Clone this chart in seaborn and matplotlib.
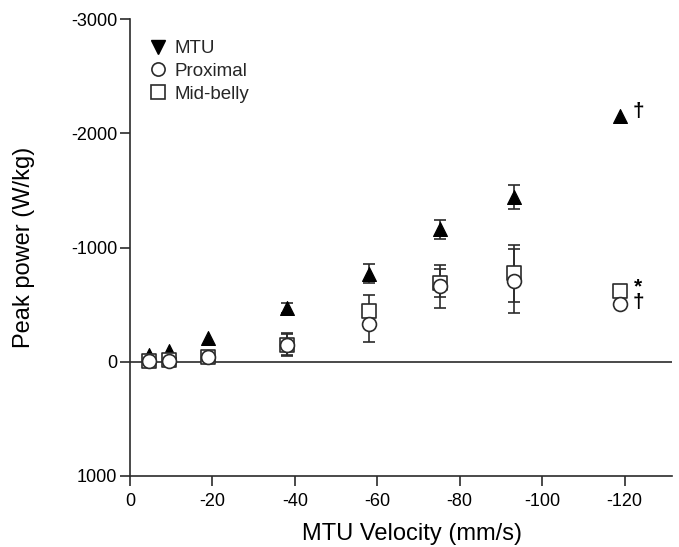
import numpy as np
import pandas as pd
import matplotlib
matplotlib.use("Agg")
import matplotlib.pyplot as plt
from matplotlib.lines import Line2D
import seaborn as sns

# ---- data ----
velocity = [-4.7, -9.4, -18.9, -38.0, -58.0, -75.2, -93.2, -118.9]
mtu = [-55, -95, -210, -470, -770, -1160, -1445, -2150]
mtu_err = [0, 0, 0, 40, 85, 85, 105, 0]
proximal = [-5, -8, -40, -150, -330, -660, -705, -505]
proximal_err = [0, 0, 0, 100, 160, 190, 280, 0]
midbelly = [-8, -12, -45, -150, -440, -690, -775, -620]
midbelly_err = [0, 0, 0, 90, 140, 120, 250, 0]
series_names = ["MTU", "Proximal", "Mid-belly"]
x_ticks = [0, -20, -40, -60, -80, -100, -120]
y_ticks = [-3000, -2000, -1000, 0, 1000]

df = pd.DataFrame({
    "velocity": velocity * 3,
    "power": mtu + proximal + midbelly,
    "err": mtu_err + proximal_err + midbelly_err,
    "series": sum([[s] * len(velocity) for s in series_names], []),
})

sns.set_theme(style="ticks")
plt.rcParams["font.family"] = ["Liberation Sans", "DejaVu Sans"]
plt.rcParams["axes.unicode_minus"] = False

fig = plt.figure(figsize=(6.79, 5.47), dpi=100)
ax = fig.add_axes([130 / 679, 1 - 476 / 547, 542 / 679, 457 / 547])

ink = "#2b2b2b"
ax.axhline(0, color=ink, lw=1.2, zorder=1)

# error bars
for s in series_names:
    d = df[(df.series == s) & (df.err > 0)]
    ax.errorbar(d.velocity, d.power, yerr=d.err, fmt="none", ecolor=ink,
                elinewidth=1.2, capsize=4.5, capthick=1.2, zorder=2)

ms = 100
sns.scatterplot(data=df[df.series == "MTU"], x="velocity", y="power",
                marker="^", s=ms, color="black", edgecolor="black",
                linewidth=0.8, ax=ax, zorder=3, legend=False)
sns.scatterplot(data=df[df.series == "Mid-belly"], x="velocity", y="power",
                marker="s", s=ms * 0.9, color="white", edgecolor=ink,
                linewidth=1.2, ax=ax, zorder=4, legend=False)
sns.scatterplot(data=df[df.series == "Proximal"], x="velocity", y="power",
                marker="o", s=ms, color="white", edgecolor=ink,
                linewidth=1.2, ax=ax, zorder=5, legend=False)

# significance markers next to the last points
ax.annotate("\u2020", xy=(velocity[-1], mtu[-1]), xytext=(13, 3),
            textcoords="offset points", ha="center", va="center",
            fontsize=15, fontweight="bold", color="black")
ax.annotate("*\n\u2020",
            xy=(velocity[-1], (midbelly[-1] + proximal[-1]) / 2),
            xytext=(13, 2), textcoords="offset points", ha="center",
            va="center", fontsize=15, fontweight="bold", color="black",
            linespacing=0.75, multialignment="center")

ax.set_xlim(0, -131.5)
ax.set_ylim(1000, -3000)
ax.set_xticks(x_ticks)
ax.set_yticks(y_ticks)
ax.set_xticklabels([str(v) for v in x_ticks])
ax.set_yticklabels([str(v) for v in y_ticks])
sns.despine(ax=ax)
for sp in ["left", "bottom"]:
    ax.spines[sp].set_color(ink)
    ax.spines[sp].set_linewidth(1.2)
ax.tick_params(axis="both", direction="out", length=7, width=1.2,
               color=ink, labelsize=13, labelcolor="black")
ax.tick_params(axis="y", pad=2)
ax.tick_params(axis="x", pad=5)

ax.set_xlabel("MTU Velocity (mm/s)", fontsize=17, color="black")
ax.set_ylabel("Peak power (W/kg)", fontsize=17, color="black")
ax.xaxis.set_label_coords((412 - 130) / 542, -0.103)
ax.yaxis.set_label_coords((35 - 130) / 542, 0.5)

handles = [
    Line2D([], [], ls="none", marker="v", ms=9.5, mfc="black", mec="black"),
    Line2D([], [], ls="none", marker="o", ms=9.5, mfc="white", mec=ink, mew=1.2),
    Line2D([], [], ls="none", marker="s", ms=9.5, mfc="white", mec=ink, mew=1.2),
]
ax.legend(handles, series_names, loc="upper left",
          bbox_to_anchor=((149 - 130) / 542, 1 - (40 - 19) / 457),
          frameon=False, fontsize=13.5, handlelength=1.0, handletextpad=0.35,
          labelspacing=0.3, borderpad=0, borderaxespad=0)

fig.savefig("out.png", dpi=100)
